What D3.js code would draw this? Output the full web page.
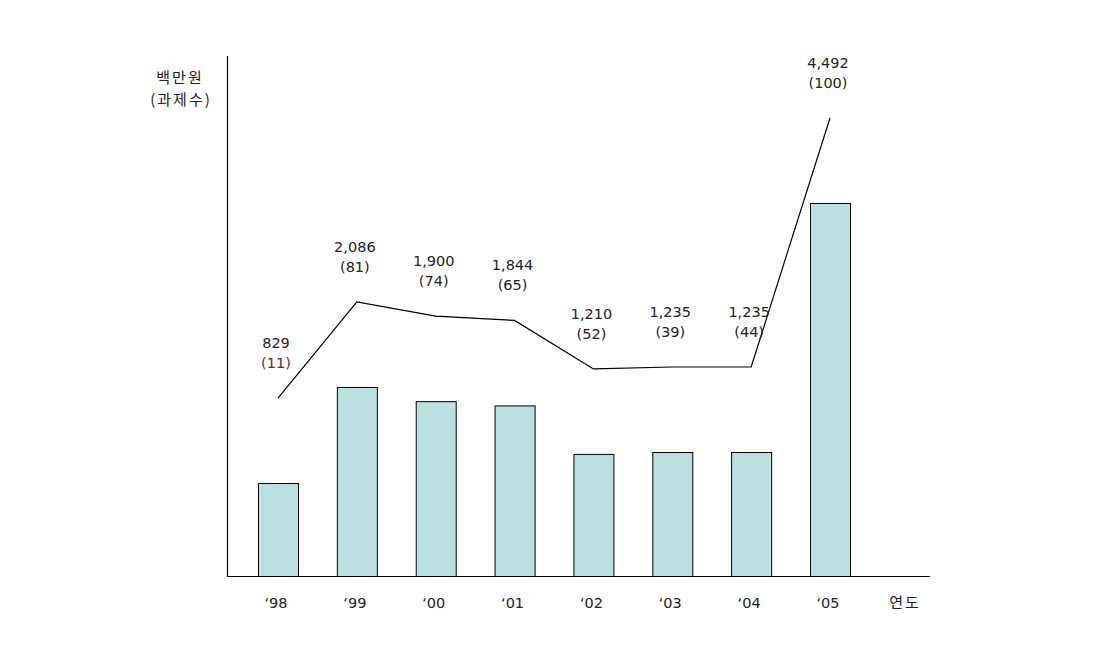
<!DOCTYPE html>
<html>
<head>
<meta charset="utf-8">
<script src="https://cdn.jsdelivr.net/npm/d3@7"></script>
<style>
  html, body { margin: 0; padding: 0; background: #fff; }
  svg { display: block; }
  text { font-family: "DejaVu Sans", "Noto Sans CJK KR", sans-serif; font-size: 14.5px; fill: #222; }
  .kr { font-family: "Noto Sans CJK KR", sans-serif; font-size: 15px; letter-spacing: 2px; }
</style>
</head>
<body>
<svg id="chart" width="1093" height="651"></svg>
<script>
// Data
const years = ["\u201898", "\u201899", "\u201800", "\u201801", "\u201802", "\u201803", "\u201804", "\u201805"];
const amounts = [829, 2086, 1900, 1844, 1210, 1235, 1235, 4492];   // 백만원
const counts = [11, 81, 74, 65, 52, 39, 44, 100];                  // 과제수
const yAxisLabel = ["백만원", "(과제수)"];
const xAxisLabel = "연도";

const svg = d3.select("#chart");

const x0 = 227, x1 = 930, yBase = 576, yTop = 56;

const x = d3.scalePoint().domain(years).range([278, 830]);
// bar heights are drawn on a scale whose baseline does not start at zero
const y = d3.scaleLinear().domain([-387, 4492]).range([yBase, 203]);
const lineOffset = 85;
const barW = 40;

// bars
svg.selectAll("rect.bar")
  .data(years.map((yr, i) => ({ yr, v: amounts[i] })))
  .join("rect")
  .attr("class", "bar")
  .attr("x", d => x(d.yr) - barW / 2 + 0.5)
  .attr("y", d => y(d.v) + 0.5)
  .attr("width", barW)
  .attr("height", d => yBase - y(d.v))
  .attr("fill", "#bbe0e2")
  .attr("stroke", "#000")
  .attr("stroke-width", 1);

// axes lines
svg.append("line").attr("x1", x0 + 0.5).attr("x2", x0 + 0.5).attr("y1", yTop).attr("y2", yBase + 0.5)
  .attr("stroke", "#000").attr("stroke-width", 1.2);
svg.append("line").attr("x1", x0).attr("x2", x1).attr("y1", yBase + 0.5).attr("y2", yBase + 0.5)
  .attr("stroke", "#000").attr("stroke-width", 1.2);

// line
const line = d3.line().x((d, i) => x(years[i])).y(d => y(d) - lineOffset);
svg.append("path").datum(amounts).attr("d", line)
  .attr("fill", "none").attr("stroke", "#000").attr("stroke-width", 1.2);

// value labels
const fmt = d3.format(",");
const lbl = svg.append("g");
amounts.forEach((v, i) => {
  const px = x(years[i]), py = y(v) - lineOffset;
  lbl.append("text").attr("x", px - 2).attr("y", py - 55).attr("text-anchor", "middle")
    .attr("dominant-baseline", "central").text(fmt(v));
  lbl.append("text").attr("x", px - 2).attr("y", py - 35).attr("text-anchor", "middle")
    .attr("dominant-baseline", "central")
    .style("fill", i === 0 ? "#7a1a2a" : "#222")
    .text("(" + counts[i] + ")");
});

// x tick labels
svg.append("g").selectAll("text").data(years).join("text")
  .attr("x", d => x(d) - 2).attr("y", 603)
  .attr("text-anchor", "middle").attr("dominant-baseline", "central")
  .text(d => d);

svg.append("text").attr("class", "kr").attr("x", 905).attr("y", 601)
  .attr("text-anchor", "middle").attr("dominant-baseline", "central").text(xAxisLabel);

// y axis label
svg.append("text").attr("class", "kr").attr("x", 180).attr("y", 76)
  .attr("text-anchor", "middle").attr("dominant-baseline", "central").text(yAxisLabel[0]);
svg.append("text").attr("class", "kr").attr("x", 181).attr("y", 98)
  .attr("text-anchor", "middle").attr("dominant-baseline", "central").text(yAxisLabel[1]);
</script>
</body>
</html>
